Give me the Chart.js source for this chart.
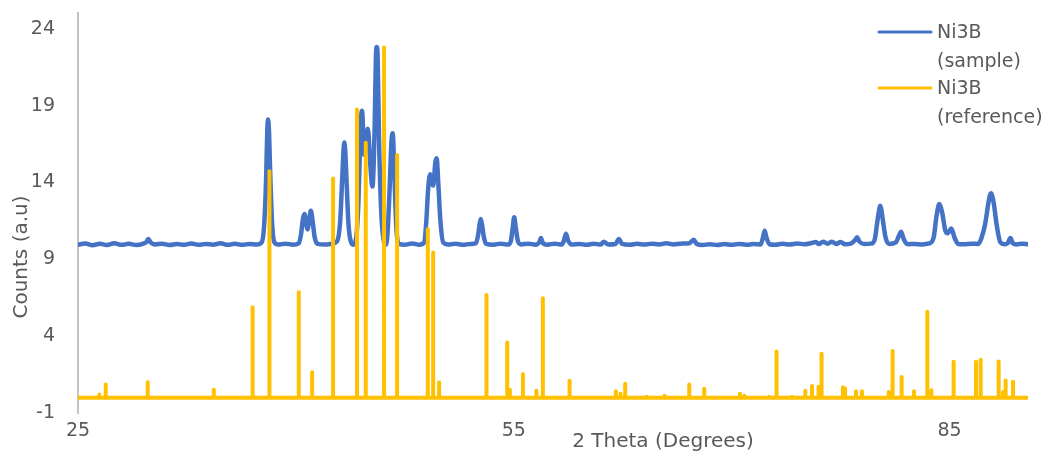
<!DOCTYPE html>
<html>
<head>
<meta charset="utf-8">
<script src="https://cdn.jsdelivr.net/npm/chart.js@4.4.1/dist/chart.umd.min.js"></script>
<style>
  html, body { margin: 0; padding: 0; background: #ffffff; }
  #wrap { width: 1046px; height: 457px; }
</style>
</head>
<body>
<div id="wrap"><canvas id="c" width="1046" height="457"></canvas></div>
<script>
// ---- data ----
const sampleTheta = [
  25.0, 25.5, 26.0, 26.5, 27.0, 27.5, 28.0, 28.5, 29.0, 29.5,
  29.7, 29.84, 30.0, 30.3, 30.8, 31.3, 31.8, 32.3, 32.8, 33.3,
  33.8, 34.3, 34.8, 35.3, 35.8, 36.3, 36.8, 37.3, 37.65, 37.82,
  37.96, 38.03, 38.09, 38.15, 38.22, 38.36, 38.52, 38.8, 39.3, 39.8,
  40.2, 40.35, 40.48, 40.59, 40.70, 40.80, 40.92, 41.03, 41.15, 41.3,
  41.5, 42.0, 42.5, 42.85, 43.05, 43.2, 43.28, 43.34, 43.40, 43.48,
  43.62, 43.8, 43.96, 44.15, 44.3, 44.44, 44.50, 44.54, 44.59, 44.70,
  44.90, 44.95, 45.0, 45.1, 45.27, 45.42, 45.51, 45.57, 45.63, 45.72,
  45.88, 46.05, 46.18, 46.3, 46.45, 46.57, 46.65, 46.70, 46.78, 46.92,
  47.1, 47.5, 48.0, 48.5, 48.83, 48.98, 49.1, 49.24, 49.45, 49.6,
  49.68, 49.72, 49.8, 49.95, 50.14, 50.5, 51.0, 51.5, 52.0, 52.4,
  52.55, 52.65, 52.73, 52.82, 52.95, 53.1, 53.6, 54.1, 54.6, 54.8,
  54.92, 55.03, 55.13, 55.28, 55.5, 56.0, 56.5, 56.75, 56.87, 57.0,
  57.3, 57.8, 58.3, 58.45, 58.59, 58.75, 59.0, 59.5, 60.0, 60.5,
  61.0, 61.18, 61.5, 62.0, 62.24, 62.45, 63.0, 63.5, 64.0, 64.5,
  65.0, 65.5, 66.0, 66.5, 67.1, 67.38, 67.6, 68.0, 68.5, 69.0,
  69.5, 70.0, 70.5, 71.0, 71.5, 72.0, 72.15, 72.27, 72.4, 72.6,
  73.0, 73.5, 74.0, 74.5, 75.0, 75.5, 75.8, 76.0, 76.3, 76.6,
  76.9, 77.2, 77.5, 77.8, 78.2, 78.5, 78.63, 78.8, 79.1, 79.6,
  79.85, 80.05, 80.17, 80.23, 80.29, 80.4, 80.6, 80.85, 81.3, 81.5,
  81.66, 81.85, 82.1, 82.6, 83.1, 83.6, 83.9, 84.1, 84.24, 84.30,
  84.37, 84.5, 84.7, 84.87, 85.12, 85.35, 85.6, 86.0, 86.5, 86.98,
  87.2, 87.45, 87.68, 87.79, 87.86, 87.93, 88.05, 88.25, 88.5, 88.8,
  89.0, 89.19, 89.35, 89.6, 90.0, 90.38
];
const sampleCounts = [
  9.95, 10.03, 9.92, 10.01, 9.93, 10.04, 9.94, 10.01, 9.93, 10.02,
  10.12, 10.32, 10.1, 9.97, 10.02, 9.93, 10.0, 9.94, 10.03, 9.94,
  10.0, 9.95, 10.04, 9.94, 10.01, 9.94, 10.0, 9.96, 10.1, 11.3,
  14.6, 17.4, 18.1, 17.3, 15.0, 11.4, 10.1, 9.96, 10.02, 9.95,
  10.05, 10.6, 11.6, 11.94, 11.35, 10.95, 11.6, 12.16, 11.5, 10.4,
  10.0, 9.96, 10.02, 10.2, 11.5, 14.5, 16.1, 16.6, 16.0, 14.3,
  11.3, 10.1, 9.95, 10.4, 12.6, 17.0, 18.4, 18.66, 18.3, 15.8,
  17.3, 17.5, 17.2, 15.5, 13.74, 17.5, 22.2, 22.81, 22.1, 17.0,
  12.0, 10.2, 9.95, 10.6, 13.5, 16.5, 17.2, 16.8, 14.5, 11.0,
  10.0, 9.95, 10.03, 9.95, 10.1, 11.5, 13.5, 14.54, 13.8, 15.3,
  15.58, 15.4, 14.0, 11.5, 10.1, 9.96, 10.02, 9.94, 10.0, 10.05,
  10.6, 11.3, 11.62, 11.2, 10.4, 10.0, 9.95, 10.02, 9.96, 10.2,
  11.0, 11.73, 11.1, 10.2, 9.97, 10.02, 9.95, 10.1, 10.38, 10.05,
  9.95, 10.02, 9.96, 10.2, 10.67, 10.2, 9.96, 10.0, 9.94, 10.02,
  9.96, 10.15, 9.97, 10.0, 10.32, 10.0, 9.95, 10.01, 9.96, 10.02,
  9.97, 10.04, 9.97, 10.02, 10.05, 10.28, 10.0, 9.93, 9.98, 9.93,
  9.99, 9.94, 10.0, 9.95, 9.99, 9.97, 10.4, 10.86, 10.4, 9.98,
  9.95, 10.01, 9.96, 10.03, 9.98, 10.06, 10.12, 10.0, 10.14, 10.02,
  10.15, 10.0, 10.12, 9.98, 10.02, 10.25, 10.43, 10.15, 10.0, 10.02,
  10.3, 11.6, 12.3, 12.49, 12.3, 11.6, 10.4, 10.0, 10.1, 10.5,
  10.8, 10.3, 9.98, 10.0, 9.97, 10.03, 10.4, 11.8, 12.5, 12.6,
  12.45, 12.0, 10.9, 10.69, 11.01, 10.4, 10.0, 9.98, 10.02, 10.0,
  10.4, 11.3, 12.7, 13.2, 13.3, 13.15, 12.6, 11.2, 10.1, 9.98,
  10.05, 10.38, 10.05, 9.97, 10.02, 9.98
];
const refTheta = [
  26.47, 26.91, 29.80, 34.35, 37.02, 38.18, 40.20, 41.12, 42.56, 44.21,
  44.81, 46.07, 46.97, 49.08, 49.45, 49.86, 53.12, 54.55, 54.73, 55.63,
  56.56, 57.00, 58.84, 62.03, 62.35, 62.67, 64.14, 65.38, 67.08, 68.11,
  70.57, 70.87, 72.59, 73.09, 74.15, 75.07, 75.53, 75.98, 76.19, 77.66,
  77.80, 78.56, 78.97, 80.81, 81.08, 81.70, 82.55, 83.47, 83.75, 85.28,
  86.82, 87.14, 88.38, 88.68, 88.86, 89.37
];
const refIntensity = [
  0.2, 0.85, 1.0, 0.52, 5.88, 14.73, 6.85, 1.65, 14.25, 18.75,
  16.58, 22.78, 15.78, 10.96, 9.44, 1.0, 6.68, 3.58, 0.52, 1.52,
  0.45, 6.46, 1.1, 0.42, 0.25, 0.9, 0.06, 0.12, 0.85, 0.58,
  0.25, 0.12, 0.06, 3.0, 0.06, 0.45, 0.75, 0.7, 2.85, 0.68,
  0.6, 0.42, 0.42, 0.37, 3.04, 1.34, 0.42, 5.59, 0.48, 2.33,
  2.33, 2.46, 2.35, 0.37, 1.12, 1.04
];
const refStart = 25.0;
const refEnd = 90.38;
const xTicks = [25, 55, 85];
const yTicks = [-1, 4, 9, 14, 19, 24];
const seriesNames = [["Ni3B", "(sample)"], ["Ni3B", "(reference)"]];
const xTitle = "2 Theta (Degrees)";
const yTitle = "Counts (a.u)";

// ---- build datasets ----
const samplePoints = sampleTheta.map((t, i) => ({ x: t, y: sampleCounts[i] }));
const refPoints = [{ x: refStart, y: 0 }];
refTheta.forEach((t, i) => {
  refPoints.push({ x: t, y: 0 }, { x: t, y: refIntensity[i] }, { x: t, y: 0 });
});
refPoints.push({ x: refEnd, y: 0 });

const BLUE = '#4472C4';
const GOLD = '#FFC000';
const TXT = '#595959';
const FONT = 'DejaVu Sans';

const overlay = {
  id: 'overlay',
  afterDraw(chart) {
    const ctx = chart.ctx;
    ctx.save();
    ctx.fillStyle = TXT;
    // axis titles
    ctx.font = '20px "' + FONT + '"';
    ctx.textAlign = 'center';
    ctx.textBaseline = 'middle';
    ctx.fillText(xTitle, 663, 442);
    ctx.save();
    ctx.translate(22, 257);
    ctx.rotate(-Math.PI / 2);
    ctx.fillText(yTitle, 0, 0);
    ctx.restore();
    // legend
    ctx.font = '19px "' + FONT + '"';
    ctx.textAlign = 'left';
    const colors = [BLUE, GOLD];
    const rows = [33, 89];
    seriesNames.forEach((lines, i) => {
      const y = rows[i];
      ctx.strokeStyle = colors[i];
      ctx.lineWidth = 3;
      ctx.lineCap = 'round';
      ctx.beginPath();
      ctx.moveTo(879, y - 1);
      ctx.lineTo(931, y - 1);
      ctx.stroke();
      lines.forEach((s, k) => ctx.fillText(s, 937, y + k * 29));
    });
    ctx.restore();
  }
};

new Chart(document.getElementById('c'), {
  type: 'line',
  data: {
    datasets: [
      {
        label: 'Ni3B (sample)',
        data: samplePoints,
        borderColor: BLUE,
        borderWidth: 4.5,
        pointRadius: 0,
        cubicInterpolationMode: 'monotone',
        borderJoinStyle: 'round',
        borderCapStyle: 'round',
        fill: false,
        order: 1
      },
      {
        label: 'Ni3B (reference)',
        data: refPoints,
        borderColor: GOLD,
        borderWidth: 4,
        pointRadius: 0,
        tension: 0,
        borderJoinStyle: 'round',
        borderCapStyle: 'round',
        fill: false,
        order: 0
      }
    ]
  },
  options: {
    responsive: false,
    animation: false,
    devicePixelRatio: 1,
    layout: { padding: { left: 0, right: 18, top: 13, bottom: 0 } },
    scales: {
      x: {
        type: 'linear',
        min: 25,
        max: 90.4,
        afterBuildTicks: s => { s.ticks = xTicks.map(v => ({ value: v })); },
        afterFit: s => { s.height = 44; },
        grid: { display: false, drawTicks: false },
        border: { display: false },
        ticks: { padding: 7, color: TXT, font: { family: FONT, size: 19 }, maxRotation: 0, autoSkip: false }
      },
      y: {
        type: 'linear',
        min: -1,
        max: 25,
        afterBuildTicks: s => { s.ticks = yTicks.map(v => ({ value: v })); },
        afterFit: s => { s.width = 78; },
        grid: { display: false, drawTicks: true, tickLength: 21 },
        border: { display: true, color: '#C4C4C4', width: 2 },
        ticks: { padding: 2, color: TXT, font: { family: FONT, size: 19 }, autoSkip: false }
      }
    },
    plugins: { legend: { display: false }, tooltip: { enabled: false } }
  },
  plugins: [overlay]
});
</script>
</body>
</html>
